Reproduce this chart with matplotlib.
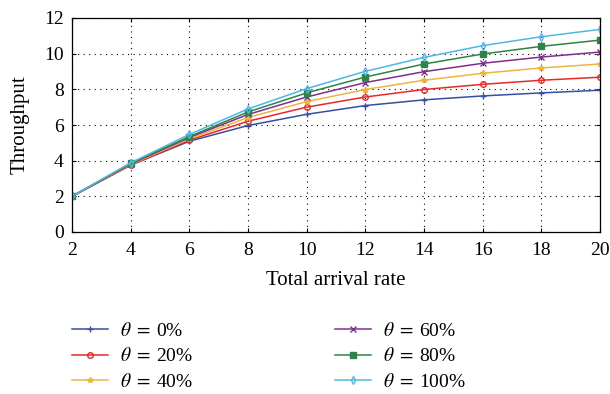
import matplotlib
matplotlib.use('Agg')
import matplotlib.pyplot as plt

plt.rcParams['font.family'] = ['Liberation Serif', 'DejaVu Serif']
plt.rcParams['mathtext.fontset'] = 'stix'

arrival_rate = [2, 4, 6, 8, 10, 12, 14, 16, 18, 20]
theta_labels = ['0%', '20%', '40%', '60%', '80%', '100%']
thr_0 = [2.0, 3.75, 5.09, 5.97, 6.60, 7.09, 7.41, 7.63, 7.80, 7.95]
thr_20 = [2.0, 3.75, 5.15, 6.21, 7.00, 7.57, 7.99, 8.28, 8.51, 8.68]
thr_40 = [2.0, 3.79, 5.22, 6.42, 7.31, 7.99, 8.51, 8.90, 9.20, 9.42]
thr_60 = [2.0, 3.82, 5.30, 6.59, 7.57, 8.38, 8.99, 9.46, 9.81, 10.09]
thr_80 = [2.0, 3.85, 5.35, 6.73, 7.80, 8.69, 9.42, 9.98, 10.41, 10.76]
thr_100 = [2.0, 3.88, 5.47, 6.90, 8.04, 9.01, 9.79, 10.45, 10.95, 11.36]

series = [thr_0, thr_20, thr_40, thr_60, thr_80, thr_100]
colors = ['#3550a3', '#e8282b', '#ecb440', '#7e2f8e', '#2e8446', '#4db8e8']
markers = ['+', 'o', '*', 'x', 's', 'd']

fig = plt.figure(figsize=(6.1, 3.94), dpi=100)
ax = fig.add_axes([72 / 610, 1 - 232 / 394, 528 / 610, 214 / 394])

for vals, lab, c, m in zip(series, theta_labels, colors, markers):
    ax.plot(arrival_rate, vals, color=c, marker=m, markersize=4, lw=1.1,
            markerfacecolor='none' if m in ('o', 'd') else c,
            markeredgewidth=1.0,
            label=r'$\theta\;=\;$' + lab)

ax.set_xlim(2, 20)
ax.set_ylim(0, 12)
ax.set_xticks(range(2, 21, 2))
ax.set_yticks(range(0, 13, 2))
ax.grid(True, color='black', linestyle=(0, (1, 4)), linewidth=0.8)
ax.tick_params(direction='in', right=True, top=True, labelsize=14, length=3)
ax.tick_params(axis='x', pad=7)
ax.tick_params(axis='y', pad=6)
for s in ax.spines.values():
    s.set_linewidth(0.9)
ax.set_xlabel('Total arrival rate', fontsize=15, labelpad=9)
ax.set_ylabel('Throughput', fontsize=15, labelpad=10)

handles, labels = ax.get_legend_handles_labels()
leg_kw = dict(loc='upper left', frameon=False, fontsize=14, handlelength=1.85,
              labelspacing=0.38, handletextpad=0.6, borderpad=0, borderaxespad=0)
fig.legend(handles[:3], labels[:3], bbox_to_anchor=(72 / 610, 1 - 322 / 394), **leg_kw)
fig.legend(handles[3:], labels[3:], bbox_to_anchor=(335 / 610, 1 - 322 / 394), **leg_kw)

fig.savefig('out.png', dpi=100)
